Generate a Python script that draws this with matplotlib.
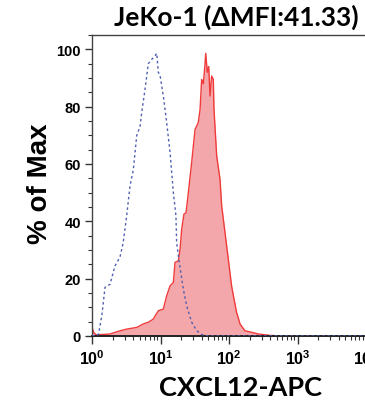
import numpy as np
import matplotlib
matplotlib.use("Agg")
import matplotlib.pyplot as plt
from matplotlib.ticker import LogLocator, MultipleLocator, FixedLocator

# isotype control (blue dashed) - intensity / % of max
iso_x = [1.0, 1.24, 1.39, 1.55, 1.83, 2.17, 2.56, 2.86, 3.21, 3.59, 4.01, 4.50,
         5.02, 5.32, 5.94, 6.64, 7.45, 8.32, 8.81, 9.29, 9.84, 11.0, 12.3, 13.8,
         15.4, 16.8, 17.2, 18.8, 21.5, 24.1, 28.5, 33.7, 39.9, 50.0, 30000.0]
iso_y = [0, 0.5, 7, 17, 18, 24.5, 27.5, 32.7, 42, 52.4, 58, 70,
         73, 78, 86, 95, 96.5, 97.7, 98.6, 92, 91, 83.7, 74.5, 64,
         50, 42, 32.6, 25.7, 16.4, 10.6, 4.8, 1.9, 0.5, 0, 0]

# CXCL12-APC stained (red filled)
cx_x = [1.0, 1.06, 1.15, 1.83, 2.56, 3.21, 4.50, 5.61, 6.64, 7.85, 9.29, 11.0,
        12.3, 13.8, 15.4, 16.3, 18.2, 19.3, 20.4, 22.0, 23.6, 25.5, 28.5, 31.9,
        35.6, 37.8, 39.9, 42.2, 44.7, 45.7, 48.2, 50.6, 52.8, 55.8, 59.0, 60.4,
        66.1, 73.9, 78.2, 87.5, 97.7, 109, 116, 129, 145, 171, 214, 268, 400,
        600, 30000.0]
cx_y = [3.0, 1.2, 0.4, 0.7, 1.8, 2.4, 3.0, 4.2, 4.8, 5.9, 8.8, 9.4,
        14, 17.5, 18.7, 25.7, 26.2, 30.3, 37.3, 42.5, 43, 50, 60.5, 72,
        74.5, 79, 89.5, 88, 95, 98.6, 92, 94, 83.7, 90.7, 89.5, 79,
        62.8, 54.7, 45.4, 36, 26.8, 17.5, 14, 8.3, 4.2, 1.8, 1.3, 0.7, 0.2,
        0, 0]

title = "JeKo-1 (\u0394MFI:41.33)"
xlab = "CXCL12-APC"
ylab = "% of Max"
yticks = [0, 20, 40, 60, 80, 100]

plt.rcParams['mathtext.fontset'] = 'custom'
plt.rcParams['mathtext.rm'] = 'Liberation Sans:bold'
plt.rcParams['mathtext.it'] = 'Liberation Sans:bold'
plt.rcParams['mathtext.bf'] = 'Liberation Sans:bold'

fig = plt.figure(figsize=(3.65, 4.06), dpi=100)
ax = fig.add_axes([92 / 365, 69 / 406, 4.5 * 68.5 / 365, 301 / 406])

ax.fill_between(cx_x, cx_y, 0, color='#f4a7aa', lw=0, zorder=1)
ax.plot(cx_x, cx_y, color='#f03a3a', lw=1.0, zorder=2)
ax.plot(iso_x, iso_y, color='#4f5fb0', lw=1.0, ls=(0, (1.8, 2.0)), zorder=3)

ax.set_xscale('log')
ax.set_xlim(1, 10 ** 4.5)
ax.set_ylim(0, 105)

ax.xaxis.set_major_locator(FixedLocator([1, 10, 100, 1000, 10000]))
ax.xaxis.set_minor_locator(LogLocator(base=10, subs=np.arange(2, 10)))
ax.set_xticklabels([r'$10^{%d}$' % i for i in range(5)])
ax.yaxis.set_major_locator(FixedLocator(yticks))
ax.yaxis.set_minor_locator(MultipleLocator(5))
ax.set_yticklabels([str(v) for v in yticks])

for lab in ax.get_yticklabels():
    lab.set_fontfamily('Liberation Sans')
    lab.set_fontweight('bold')
    lab.set_fontsize(10.5)
ax.tick_params(axis='x', which='major', length=6, width=1, labelsize=11.5, pad=3, color='#333333')
ax.tick_params(axis='x', which='minor', length=3, width=0.8, color='#333333')
ax.tick_params(axis='y', which='major', length=5, width=1, pad=3, color='#333333')
ax.tick_params(axis='y', which='minor', length=3, width=0.8, color='#333333')

for s in ax.spines.values():
    s.set_color('#444444')
    s.set_linewidth(1.0)
ax.spines['bottom'].set_color('#222222')
ax.spines['bottom'].set_linewidth(1.4)

fig.text(236 / 365, 1 - 17 / 406, title, ha='center', va='center',
         fontsize=19, fontweight='bold', family=['Lato', 'DejaVu Sans'])
fig.text(240 / 365, 1 - 388 / 406, xlab, ha='center', va='center',
         fontsize=19.5, fontweight='bold', family=['Lato', 'DejaVu Sans'])
fig.text(40 / 365, 1 - 184 / 406, ylab, ha='center', va='center', rotation=90,
         fontsize=20, fontweight='bold', family='Liberation Sans')

fig.savefig('out.png', dpi=100)
